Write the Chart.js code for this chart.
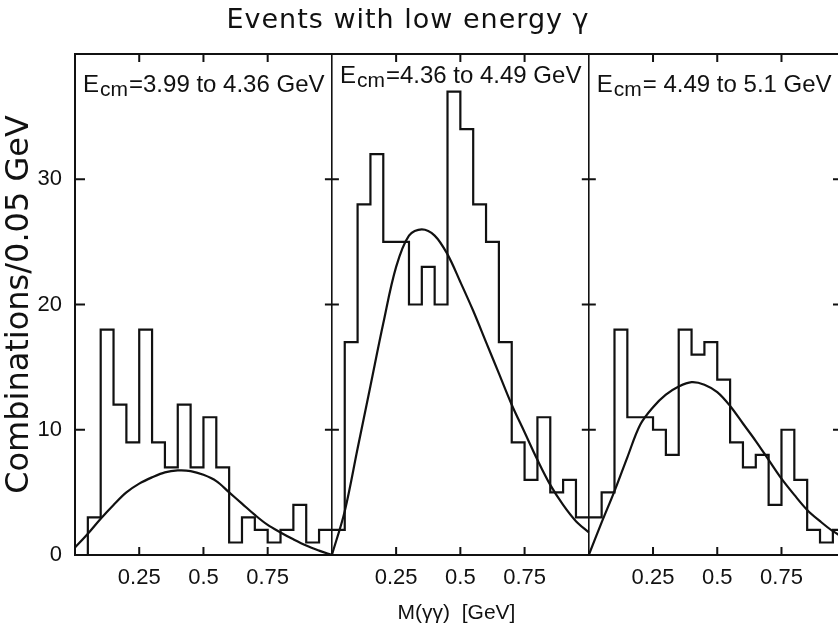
<!DOCTYPE html>
<html>
<head>
<meta charset="utf-8">
<script src="https://cdn.jsdelivr.net/npm/chart.js"></script>
<style>
  body { margin: 0; background: #fff; }
  canvas { display: block; }
</style>
</head>
<body>
<canvas id="gammaChart" width="838" height="632"></canvas>
<script>
// left edge of every 0.05 GeV bin, M(gamma gamma) in GeV
const massBins = [0.00, 0.05, 0.10, 0.15, 0.20, 0.25, 0.30, 0.35, 0.40, 0.45,
                  0.50, 0.55, 0.60, 0.65, 0.70, 0.75, 0.80, 0.85, 0.90, 0.95];
const binWidth = 0.05;

// combinations per bin, one array per Ecm window
const countsLow  = [0, 3, 18, 12, 9, 18, 9, 7, 12, 7, 11, 7, 1, 3, 2, 1, 2, 4, 1, 2];
const countsMid  = [2, 17, 28, 32, 25, 25, 20, 23, 20, 37, 34, 28, 25, 17, 9, 6, 11, 5, 6, 3];
const countsHigh = [3, 5, 18, 11, 11, 10, 8, 18, 16, 17, 14, 9, 7, 8, 4, 10, 6, 2, 1, 2];

// smooth curves every 0.05 GeV
const curveMass = [0.00, 0.05, 0.10, 0.15, 0.20, 0.25, 0.30, 0.35, 0.40, 0.45, 0.50,
                   0.55, 0.60, 0.65, 0.70, 0.75, 0.80, 0.85, 0.90, 0.95, 1.00];
const fitLow  = [0.6, 1.7, 2.9, 4.0, 5.0, 5.7, 6.2, 6.6, 6.75, 6.7, 6.4,
                 5.9, 5.0, 4.1, 3.2, 2.4, 1.8, 1.25, 0.75, 0.35, 0];
const fitMid  = [0, 3.5, 8.5, 13.5, 18.5, 23.0, 25.5, 26.0, 25.5, 24.0, 21.8,
                 19.5, 17.0, 14.5, 12.0, 9.8, 7.6, 5.6, 4.0, 2.7, 1.8];
const fitHigh = [0, 2.6, 5.1, 7.8, 10.4, 11.8, 12.8, 13.45, 13.8, 13.6, 13.0,
                 11.9, 10.5, 9.1, 7.6, 6.1, 4.8, 3.6, 2.7, 1.9, 1.3];

const panelLabels = ['=3.99 to 4.36 GeV', '=4.36 to 4.49 GeV', '= 4.49 to 5.1 GeV'];

// tick labels
const xTickValues = [0.25, 0.5, 0.75];
const xTickLabels = ['0.25', '0.5', '0.75'];
const yTickValues = [0, 10, 20, 30];

const ink = '#111';
const panels = [
  { counts: countsLow,  fit: fitLow },
  { counts: countsMid,  fit: fitMid },
  { counts: countsHigh, fit: fitHigh }
];

// the three panels sit side by side on one axis, panel p starts at x = p
const datasets = [];
panels.forEach((pan, p) => {
  const steps = massBins.map((m, i) => ({ x: p + m, y: pan.counts[i] }));
  steps.push({ x: p + massBins[massBins.length - 1] + binWidth, y: pan.counts[pan.counts.length - 1] });
  datasets.push({
    data: steps,
    stepped: 'before',   // each value holds from its bin edge to the next one
    borderColor: ink,
    borderWidth: 2.2,
    pointRadius: 0,
    fill: false
  });
  datasets.push({
    data: curveMass.map((m, i) => ({ x: p + m, y: pan.fit[i] })),
    borderColor: ink,
    borderWidth: 2.2,
    pointRadius: 0,
    tension: 0.35,
    fill: false
  });
});

function near(a, b) { return Math.abs(a - b) < 1e-6; }

// frame, inward ticks, panel captions and title
const panelMarks = {
  id: 'panelMarks',
  afterDraw(chart) {
    const { ctx, chartArea: a, scales: { x, y } } = chart;
    ctx.save();
    ctx.strokeStyle = ink;
    ctx.lineWidth = 2;
    ctx.beginPath();
    ctx.moveTo(a.left, a.top);
    ctx.lineTo(a.right, a.top);

    for (let p = 0; p < 3; p++) {
      xTickValues.forEach(tv => {
        const px = x.getPixelForValue(p + tv);
        if (px > a.right) return;
        ctx.moveTo(px, a.bottom); ctx.lineTo(px, a.bottom - 8);
        ctx.moveTo(px, a.top);    ctx.lineTo(px, a.top + 8);
      });
    }
    yTickValues.filter(v => v > 0).forEach(v => {
      const py = y.getPixelForValue(v);
      ctx.moveTo(a.left, py); ctx.lineTo(a.left + 10, py);
      [1, 2].forEach(p => {
        const sx = x.getPixelForValue(p);
        ctx.moveTo(sx - 7, py); ctx.lineTo(sx + 7, py);
      });
      ctx.moveTo(a.right - 5, py); ctx.lineTo(a.right, py);
    });
    ctx.stroke();

    // Ecm captions
    const drop = [38, 29, 38];
    ctx.fillStyle = ink;
    ctx.textBaseline = 'alphabetic';
    ctx.textAlign = 'left';
    panelLabels.forEach((txt, p) => {
      let tx = x.getPixelForValue(p) + 8;
      const by = a.top + drop[p];
      ctx.font = '24px "Liberation Sans", Arial, sans-serif';
      ctx.fillText('E', tx, by);
      tx += ctx.measureText('E').width + 1;
      ctx.font = '21px "Liberation Sans", Arial, sans-serif';
      ctx.fillText('cm', tx, by + 4);
      tx += ctx.measureText('cm').width + 1;
      ctx.font = '24px "Liberation Sans", Arial, sans-serif';
      ctx.fillText(txt, tx, by);
    });

    ctx.font = '27px "DejaVu Sans", sans-serif';
    ctx.letterSpacing = '1px';
    ctx.textAlign = 'center';
    ctx.fillText('Events with low energy γ', 408, 28);
    ctx.restore();
  }
};

const gammaChart = new Chart('gammaChart', {
  type: 'line',
  data: { datasets: datasets },
  options: {
    responsive: false,
    animation: false,
    devicePixelRatio: 1,
    layout: { padding: { top: 54, left: 0, right: 0, bottom: 0 } },
    plugins: {
      legend: { display: false },
      tooltip: { enabled: false },
      title: { display: false }
    },
    scales: {
      x: {
        type: 'linear',
        min: 0,
        max: 2.97,
        afterFit: s => { s.height = 77; },
        border: { display: true, color: ink, width: 2 },
        grid: {
          drawTicks: false,
          lineWidth: 1.6,
          color: c => {
            const v = c.tick ? c.tick.value : 0;
            return (near(v, 1) || near(v, 2)) ? ink : 'rgba(0,0,0,0)';
          }
        },
        ticks: {
          stepSize: 0.25,
          includeBounds: false,
          autoSkip: false,
          maxRotation: 0,
          padding: 10,
          color: ink,
          font: { family: '"Liberation Sans", Arial, sans-serif', size: 22 },
          callback: v => {
            const frac = v - Math.floor(v + 1e-9);
            const k = xTickValues.findIndex(tv => near(tv, frac));
            return k >= 0 ? xTickLabels[k] : '';
          }
        },
        title: {
          display: true,
          text: 'M(γγ)  [GeV]',
          color: ink,
          font: { family: '"Liberation Sans", Arial, sans-serif', size: 21 },
          padding: { top: 0, bottom: 6 }
        }
      },
      y: {
        min: 0,
        max: 40,
        afterFit: s => { s.width = 75; },
        border: { display: true, color: ink, width: 2 },
        grid: { display: false },
        ticks: {
          stepSize: 10,
          padding: 5,
          color: ink,
          font: { family: '"Liberation Sans", Arial, sans-serif', size: 22 },
          callback: v => yTickValues.includes(v) ? String(v) : ''
        },
        title: {
          display: true,
          text: 'Combinations/0.05 GeV',
          color: ink,
          font: { family: '"DejaVu Sans", sans-serif', size: 32 },
          padding: { top: 0, bottom: 0 }
        }
      }
    }
  },
  plugins: [panelMarks]
});
</script>
</body>
</html>
